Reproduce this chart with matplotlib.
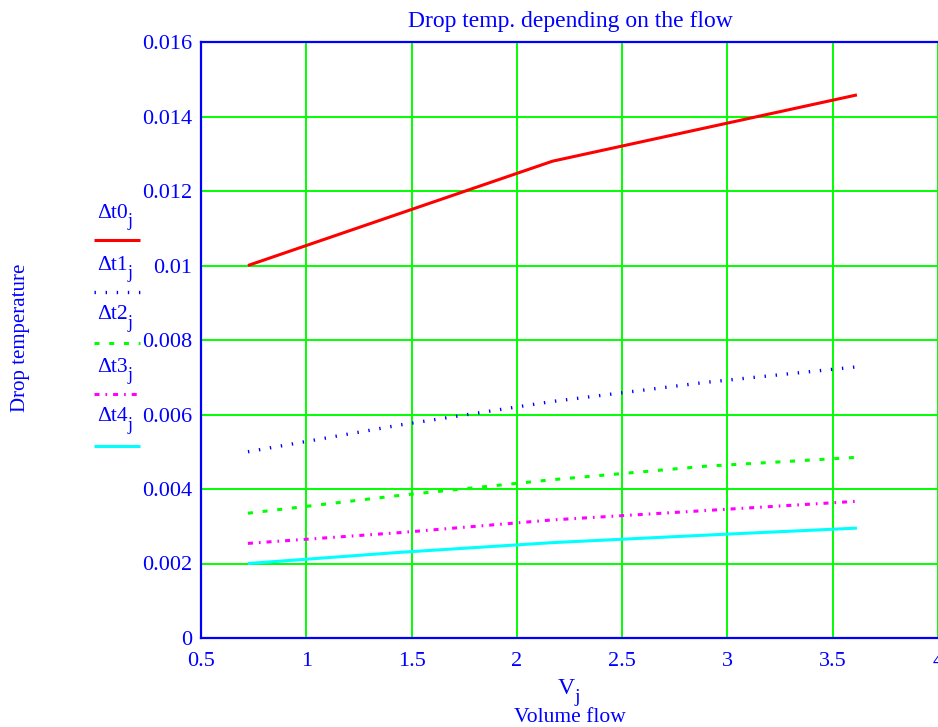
import matplotlib
matplotlib.use("Agg")
import matplotlib.pyplot as plt
from matplotlib.lines import Line2D

plt.rcParams['font.family'] = ['Liberation Serif', 'DejaVu Serif']
plt.rcParams['lines.scale_dashes'] = False

# data
V = [0.723, 1.446, 2.169, 2.892, 3.615]
dt0 = [0.0100, 0.0114, 0.0128, 0.01369, 0.01458]
dt1 = [0.0050, 0.00572, 0.00635, 0.00686, 0.00728]
dt2 = [0.00335, 0.00383, 0.00425, 0.00461, 0.00485]
dt3 = [0.00254, 0.00283, 0.00317, 0.00342, 0.00367]
dt4 = [0.0020, 0.0023, 0.00256, 0.00276, 0.00295]
labels = ["Δt0", "Δt1", "Δt2", "Δt3", "Δt4"]
xticks = [0.5, 1, 1.5, 2, 2.5, 3, 3.5, 4]
yticks = [0, 0.002, 0.004, 0.006, 0.008, 0.01, 0.012, 0.014, 0.016]
ytick_labels = ["0", "0.002", "0.004", "0.006", "0.008", "0.01", "0.012", "0.014", "0.016"]

BLUE = '#0000ff'
styles = [
    dict(color='#ff0000', lw=2.2, ls='-'),
    dict(color='#0000ff', lw=2.4, ls=(0, (1.0, 7.0))),
    dict(color='#00ff00', lw=2.2, ls=(0, (3.6, 7.0))),
    dict(color='#ff00ff', lw=2.2, ls=(0, (3.6, 4.3, 1.2, 4.3))),
    dict(color='#00ffff', lw=2.2, ls='-'),
]
series = [dt0, dt1, dt2, dt3, dt4]

W, H = 938, 727
fig = plt.figure(figsize=(W / 100, H / 100), dpi=100)
ax = fig.add_axes([201 / W, 1 - 638 / H, (938 - 201) / W, (638 - 42) / H])

ax.set_xlim(0.5, 4)
ax.set_ylim(0, 0.016)
ax.set_xticks(xticks)
ax.set_xticklabels([str(t) for t in xticks])
ax.set_yticks(yticks)
ax.set_yticklabels(ytick_labels)
ax.grid(True, color='#00ff00', lw=1.4)
ax.set_axisbelow(True)
ax.tick_params(length=0, labelsize=16, labelcolor=BLUE)
ax.tick_params(axis='y', pad=6.5)
ax.tick_params(axis='x', pad=10)
for s in ['left', 'bottom', 'top']:
    ax.spines[s].set_color(BLUE)
    ax.spines[s].set_linewidth(1.6)
ax.spines['right'].set_visible(False)

for y, st in zip(series, styles):
    ax.plot(V, y, color=st['color'], lw=st['lw'], ls=st['ls'],
            solid_capstyle='butt', dash_capstyle='butt')

# title and labels
fig.text(570 / W, 1 - 21 / H, "Drop temp. depending on the flow", color=BLUE,
         fontsize=17, ha='center', va='center')
fig.text(20 / W, 1 - 338 / H, "Drop temperature", color=BLUE, fontsize=15,
         rotation=90, ha='center', va='center')
fig.text(566 / W, 1 - 689 / H, "V", color=BLUE, fontsize=17,
         ha='center', va='center')
fig.text(577 / W, 1 - 698 / H, "j", color=BLUE, fontsize=14, ha='center', va='center')
fig.text(570 / W, 1 - 718 / H, "Volume flow", color=BLUE, fontsize=15.5,
         ha='center', va='center')

# legend at left
label_y = [213, 265, 315, 367, 417]
line_y = [240, 292, 343, 394, 446]
for lab, st, ly, lny in zip(labels, styles, label_y, line_y):
    fig.text(97 / W, 1 - ly / H, lab, color=BLUE, fontsize=15.5,
             ha='left', va='center')
    fig.text(128 / W, 1 - (ly + 8) / H, "j", color=BLUE, fontsize=13,
             ha='left', va='center')
    fig.add_artist(Line2D([94 / W, 140 / W], [1 - lny / H, 1 - lny / H],
                          transform=fig.transFigure, color=st['color'], lw=st['lw'],
                          ls=st['ls'], solid_capstyle='butt', dash_capstyle='butt'))

fig.savefig("out.png", dpi=100)
